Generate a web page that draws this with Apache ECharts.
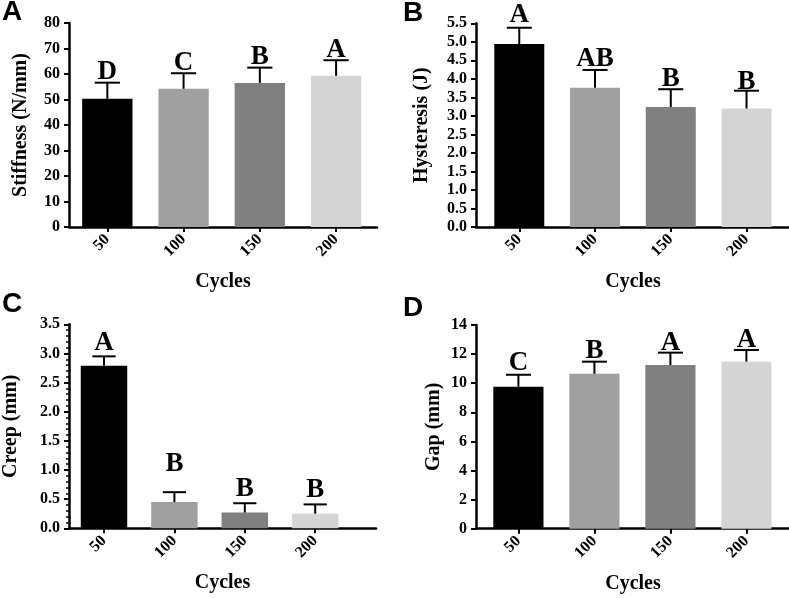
<!DOCTYPE html>
<html><head><meta charset="utf-8">
<script src="https://cdn.jsdelivr.net/npm/echarts@6/dist/echarts.min.js"></script>
<style>html,body{margin:0;padding:0;background:#fff}#c{width:789px;height:598px}</style>
</head><body><div id="c"></div>
<script>
// ---- data ----
const cycles = ['50', '100', '150', '200'];
const stiffnessMean = [50.3, 54.2, 56.5, 59.3];
const stiffnessSD = [6.3, 6.1, 6.0, 6.1];
const stiffnessLetters = ['D', 'C', 'B', 'A'];
const hysteresisMean = [4.94, 3.76, 3.24, 3.20];
const hysteresisSD = [0.44, 0.48, 0.48, 0.48];
const hysteresisLetters = ['A', 'AB', 'B', 'B'];
const creepMean = [2.79, 0.45, 0.27, 0.25];
const creepSD = [0.16, 0.17, 0.16, 0.16];
const creepLetters = ['A', 'B', 'B', 'B'];
const gapMean = [9.76, 10.65, 11.25, 11.48];
const gapSD = [0.82, 0.83, 0.85, 0.80];
const gapLetters = ['C', 'B', 'A', 'A'];

// ---- styles / layout ----
const barColors = ['#000000', '#a0a0a0', '#808080', '#d4d4d4'];
const SERIF = '"Liberation Serif", "Times New Roman", serif';
const SANS = '"Liberation Sans", Arial, sans-serif';

const panels = [
  { tag: 'A', yName: 'Stiffness (N/mm)', mean: stiffnessMean, sd: stiffnessSD, letters: stiffnessLetters,
    yMax: 80, step: 10, dec: 0, minor: false,
    axis: { left: 69, top: 23, width: 308, height: 204 }, bars: { left: 69.2, width: 305 },
    nameGap: 38, letterGap: [2, 2, 2, 2], tagPos: { left: 2, top: -2 } },
  { tag: 'B', yName: 'Hysteresis (J)', mean: hysteresisMean, sd: hysteresisSD, letters: hysteresisLetters,
    yMax: 5.5, step: 0.5, dec: 1, minor: false,
    axis: { left: 476, top: 23.3, width: 314, height: 203.7 }, bars: { left: 481.4, width: 303 },
    nameGap: 44, letterGap: [4, 2, 2, 0], tagPos: { left: 403, top: -1 } },
  { tag: 'C', yName: 'Creep (mm)', mean: creepMean, sd: creepSD, letters: creepLetters,
    yMax: 3.5, step: 0.5, dec: 1, minor: true,
    axis: { left: 69, top: 324.3, width: 307, height: 204 }, bars: { left: 68.8, width: 281.6 },
    nameGap: 48, letterGap: [5, 20, 6, 6], tagPos: { left: 2, top: 290 } },
  { tag: 'D', yName: 'Gap (mm)', mean: gapMean, sd: gapSD, letters: gapLetters,
    yMax: 14, step: 2, dec: 0, minor: false,
    axis: { left: 476, top: 325, width: 314, height: 203.7 }, bars: { left: 480.4, width: 304 },
    nameGap: 32, letterGap: [3, 2, 1, 1], tagPos: { left: 403, top: 294 } }
];

const grid = [], xAxis = [], yAxis = [], series = [], title = [];
const lineStyle = { color: '#000', width: 2.5 };

panels.forEach((p, k) => {
  const gA = grid.length;
  grid.push({ left: p.axis.left, top: p.axis.top, width: p.axis.width, height: p.axis.height, outerBoundsMode: 'none', containLabel: false });
  const gB = grid.length;
  grid.push({ left: p.bars.left, top: p.axis.top, width: p.bars.width, height: p.axis.height, outerBoundsMode: 'none', containLabel: false });

  // axis grid: x axis line + "Cycles" name, y axis with ticks/labels
  xAxis.push({ gridIndex: gA, type: 'value', min: 0, max: 1,
    axisLine: { show: true, onZero: false, lineStyle: lineStyle }, axisTick: { show: false }, axisLabel: { show: false }, splitLine: { show: false },
    name: 'Cycles', nameLocation: 'middle', nameGap: 45,
    nameTextStyle: { fontFamily: SERIF, fontWeight: 'bold', fontSize: 20, color: '#000', verticalAlign: 'top' } });
  yAxis.push({ gridIndex: gA, type: 'value', min: 0, max: p.yMax, interval: p.step,
    axisLine: { show: true, lineStyle: lineStyle },
    axisTick: { show: true, length: 5, lineStyle: { color: '#000', width: 2 } },
    minorTick: { show: p.minor, splitNumber: 5, length: 3, lineStyle: { color: '#000', width: 1.5 } },
    splitLine: { show: false },
    axisLabel: { margin: 9, fontFamily: SERIF, fontWeight: 'bold', fontSize: 16, color: '#000',
      formatter: v => v.toFixed(p.dec) },
    name: p.yName, nameLocation: 'middle', nameGap: p.nameGap, nameRotate: 90,
    nameTextStyle: { fontFamily: SERIF, fontWeight: 'bold', fontSize: 20, color: '#000' } });

  // bars grid: category axis with ticks + rotated labels
  const xB = xAxis.length;
  xAxis.push({ gridIndex: gB, type: 'category', data: cycles,
    axisLine: { show: false }, axisTick: { show: true, alignWithLabel: true, length: 5, lineStyle: { color: '#000', width: 2 } },
    axisLabel: { rotate: 45, margin: 10, fontFamily: SERIF, fontWeight: 'bold', fontSize: 16, color: '#000' } });
  const yB = yAxis.length;
  yAxis.push({ gridIndex: gB, type: 'value', min: 0, max: p.yMax, show: false });

  series.push({ type: 'bar', xAxisIndex: xB, yAxisIndex: yB, barWidth: '66%',
    data: p.mean.map((v, i) => ({ value: v, itemStyle: { color: barColors[i] } })), z: 2 });

  series.push({ type: 'custom', xAxisIndex: xB, yAxisIndex: yB, z: 5,
    data: p.mean.map((v, i) => [i, v, p.sd[i]]),
    renderItem: (params, api) => {
      const xi = api.value(0), m = api.value(1), s = api.value(2);
      const base = api.coord([xi, m]);
      const top = api.coord([xi, m + s]);
      const bw = api.size([1, 0])[0] * 0.66;
      const half = bw / 4;
      const st = { stroke: '#000', lineWidth: 2 };
      return { type: 'group', children: [
        { type: 'line', shape: { x1: base[0], y1: base[1], x2: top[0], y2: top[1] }, style: st },
        { type: 'line', shape: { x1: top[0] - half, y1: top[1], x2: top[0] + half, y2: top[1] }, style: st },
        { type: 'text', x: top[0], y: top[1] - p.letterGap[params.dataIndex] + 5,
          style: { text: p.letters[params.dataIndex], fill: '#000', align: 'center', verticalAlign: 'bottom',
            font: 'bold 27px ' + SERIF } }
      ] };
    } });

  title.push({ text: p.tag, left: p.tagPos.left, top: p.tagPos.top, padding: 0,
    textStyle: { fontFamily: SANS, fontWeight: 'bold', fontSize: 28, color: '#000' } });
});

const chart = echarts.init(document.getElementById('c'), null, { renderer: 'canvas' });
chart.setOption({ animation: false, backgroundColor: '#fff', title, grid, xAxis, yAxis, series });
</script></body></html>
